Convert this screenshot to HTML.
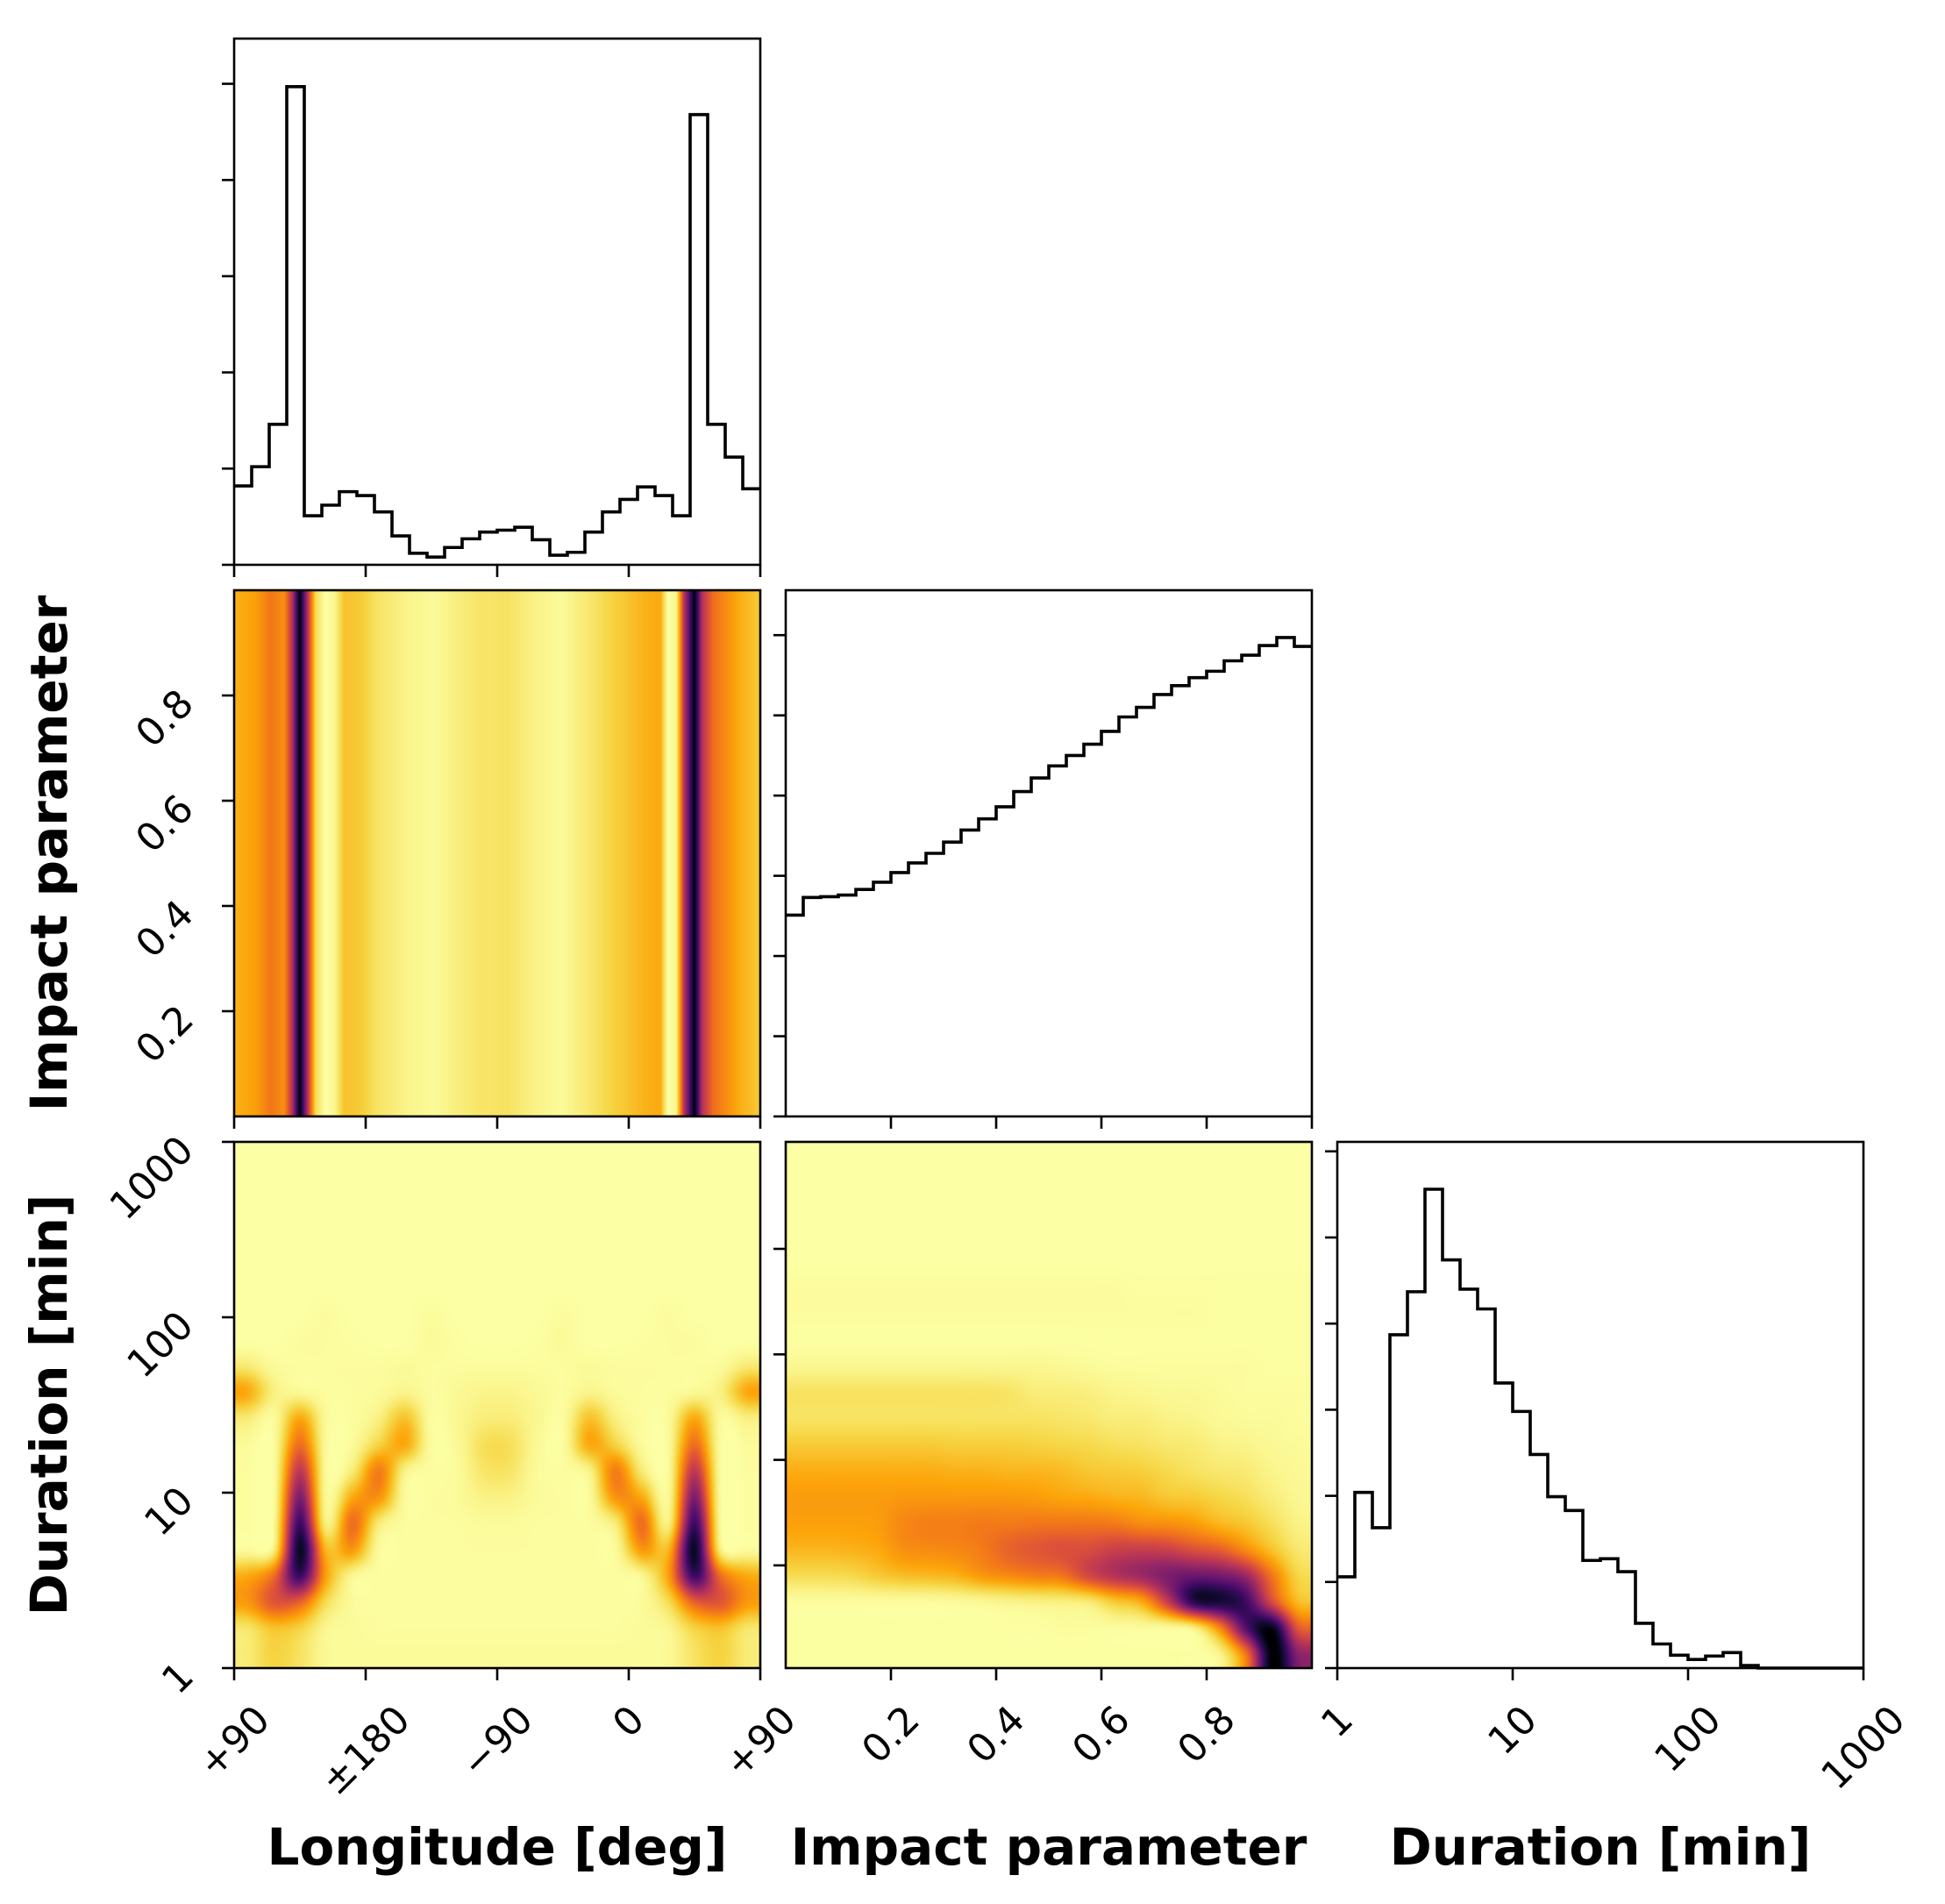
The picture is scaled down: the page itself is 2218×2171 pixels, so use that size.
<!DOCTYPE html>
<html><head><meta charset="utf-8">
<style>
html,body{margin:0;padding:0;background:#fff;}
#wrap{position:relative;width:2218px;height:2171px;overflow:hidden;background:#fff;}
canvas{position:absolute;}
svg{position:absolute;left:0;top:0;}
text{font-family:"DejaVu Sans","Liberation Sans",sans-serif;fill:#000;}
</style></head>
<body>
<div id="wrap">
<canvas id="cA" width="600" height="600" style="left:267px;top:673px"></canvas>
<canvas id="cC" width="600" height="600" style="left:267px;top:1302px"></canvas>
<canvas id="cD" width="600" height="600" style="left:896px;top:1302px"></canvas>
<svg id="svg" width="2218" height="2171"></svg>
</div>
<script>
// ---------- data ----------
const lonCounts=[0.82,1.02,1.46,4.97,0.51,0.62,0.76,0.72,0.55,0.30,0.12,0.08,0.18,0.27,0.34,0.36,0.39,0.26,0.10,0.13,0.34,0.55,0.68,0.81,0.72,0.51,4.68,1.46,1.12,0.79];
const impCounts=[2.51,2.73,2.74,2.76,2.83,2.92,3.04,3.16,3.28,3.42,3.57,3.71,3.86,4.05,4.22,4.37,4.50,4.64,4.80,4.98,5.10,5.26,5.37,5.47,5.55,5.68,5.75,5.87,5.97,5.86];
const durCounts=[1.06,2.04,1.63,3.87,4.37,5.56,4.74,4.40,4.17,3.31,2.98,2.48,1.99,1.83,1.25,1.27,1.12,0.52,0.28,0.15,0.10,0.14,0.18,0.03,0,0,0,0,0,0];
const lonTickLabels=["+90","\u00b1180","\u221290","0","+90"];
const impTickLabels=["0.2","0.4","0.6","0.8"];
const impTickValues=[0.2,0.4,0.6,0.8];
const durTickLabels=["1","10","100","1000"];
const durTickValues=[1,10,100,1000];
// longitude-impact density profile (axis phase 0..1, density)
const profPhase=[0,0.04,0.07,0.095,0.11,0.125,0.14,0.155,0.175,0.19,0.21,0.24,0.27,0.33,0.38,0.42,0.47,0.52,0.57,0.62,0.66,0.72,0.78,0.81,0.825,0.84,0.855,0.875,0.89,0.91,0.93,0.96,1.0];
const profDens =[0.26,0.30,0.40,0.34,0.60,1.0,0.60,0.15,0.0,0.05,0.22,0.20,0.13,0.06,0.03,0.08,0.12,0.13,0.07,0.03,0.09,0.18,0.26,0.28,0.0,0.05,0.60,1.0,0.60,0.42,0.36,0.27,0.20];
// longitude-duration density grid (rows top->bottom, 20x20)
const gridC=[
[0,0,0,0,0,0,0,0,0,0,0,0,0,0,0,0,0,0,0,0],
[0,0,0,0,0,0,0,0,0,0,0,0,0,0,0,0,0,0,0,0],
[0,0,0,0,0,0,0,0,0,0,0,0,0,0,0,0,0,0,0,0],
[0,0,0,0,0,0,0,0,0,0,0,0,0,0,0,0,0,0,0,0],
[0,0,0,0,0,0,0,0,0,0,0,0,0,0,0,0,0,0,0,0],
[0,0,0,0,0,0,0,0,0,0,0,0,0,0,0,0,0,0,0,0],
[0,0,0,0.02,0,0,0,0.02,0,0,0,0,0.02,0,0,0,0.02,0,0,0],
[0,0,0.02,0.02,0.01,0,0,0.03,0.01,0,0,0.01,0.03,0,0,0.01,0.02,0.02,0,0],
[0.10,0.03,0.02,0.02,0.02,0.02,0.03,0.02,0.02,0.02,0.02,0.02,0.02,0.03,0.02,0.02,0.02,0.02,0.03,0.10],
[0.28,0.08,0.04,0.02,0.02,0.03,0.06,0.02,0.04,0.06,0.06,0.04,0.02,0.06,0.03,0.02,0.02,0.04,0.08,0.28],
[0.10,0.03,0.28,0.03,0.02,0.08,0.22,0.02,0.05,0.09,0.09,0.05,0.02,0.22,0.08,0.02,0.03,0.28,0.03,0.08],
[0.03,0.02,0.42,0.03,0.03,0.18,0.28,0.02,0.04,0.14,0.14,0.04,0.02,0.28,0.18,0.03,0.03,0.42,0.02,0.03],
[0.02,0.02,0.58,0.03,0.10,0.38,0.07,0.02,0.03,0.12,0.12,0.03,0.02,0.07,0.38,0.10,0.03,0.58,0.02,0.02],
[0.02,0.02,0.72,0.04,0.28,0.33,0.03,0.02,0.03,0.07,0.07,0.03,0.02,0.03,0.33,0.28,0.04,0.72,0.02,0.02],
[0.02,0.03,0.85,0.08,0.42,0.10,0.02,0.02,0.02,0.03,0.03,0.02,0.02,0.02,0.10,0.42,0.08,0.85,0.03,0.02],
[0.03,0.08,0.95,0.25,0.32,0.03,0.02,0.02,0.02,0.02,0.02,0.02,0.02,0.02,0.03,0.32,0.25,0.95,0.08,0.03],
[0.28,0.42,0.85,0.30,0.05,0.02,0.02,0.02,0.02,0.02,0.02,0.02,0.02,0.02,0.02,0.05,0.30,0.85,0.42,0.28],
[0.32,0.48,0.45,0.15,0.03,0.02,0.02,0.02,0.02,0.02,0.02,0.02,0.02,0.02,0.02,0.03,0.15,0.45,0.48,0.32],
[0.12,0.22,0.18,0.05,0.03,0.02,0.02,0.02,0.02,0.02,0.02,0.02,0.02,0.02,0.02,0.03,0.05,0.18,0.22,0.12],
[0.10,0.18,0.13,0.04,0.03,0.03,0.03,0.03,0.03,0.03,0.03,0.03,0.03,0.03,0.03,0.03,0.04,0.13,0.18,0.10]];
// impact-duration density grid (rows top->bottom, 20x20)
const gridD=[
[0,0,0,0,0,0,0,0,0,0,0,0,0,0,0,0,0,0,0,0],
[0,0,0,0,0,0,0,0,0,0,0,0,0,0,0,0,0,0,0,0],
[0,0,0,0,0,0,0,0,0,0,0,0,0,0,0,0,0,0,0,0],
[0,0,0,0,0,0,0,0,0,0,0,0,0,0,0,0,0,0,0,0],
[0,0,0,0,0,0,0,0,0,0,0,0,0,0,0,0,0,0,0,0],
[0.02,0.02,0.02,0.02,0.02,0.02,0.02,0.02,0.02,0.02,0.02,0.02,0.02,0.01,0.01,0.01,0.01,0.01,0.01,0.01],
[0.02,0.02,0.02,0.02,0.02,0.02,0.02,0.02,0.02,0.02,0.02,0.02,0.02,0.02,0.02,0.02,0.01,0.01,0.01,0.01],
[0.01,0.01,0.01,0.01,0.01,0.01,0.01,0.01,0.01,0.01,0.01,0.01,0.01,0.01,0.01,0.01,0.01,0.01,0.01,0.01],
[0.05,0.05,0.05,0.05,0.05,0.05,0.05,0.05,0.05,0.05,0.04,0.03,0.02,0.02,0.02,0.02,0.02,0.02,0.01,0.01],
[0.13,0.13,0.13,0.13,0.13,0.13,0.13,0.13,0.12,0.09,0.09,0.08,0.06,0.05,0.04,0.04,0.03,0.02,0.02,0.02],
[0.13,0.13,0.13,0.13,0.13,0.13,0.13,0.13,0.13,0.13,0.12,0.11,0.09,0.09,0.07,0.06,0.04,0.03,0.03,0.02],
[0.20,0.20,0.20,0.20,0.20,0.20,0.19,0.19,0.19,0.18,0.17,0.16,0.14,0.13,0.11,0.10,0.07,0.06,0.04,0.03],
[0.27,0.27,0.27,0.27,0.27,0.27,0.26,0.26,0.25,0.25,0.24,0.21,0.20,0.19,0.16,0.13,0.11,0.10,0.06,0.04],
[0.31,0.31,0.31,0.31,0.32,0.32,0.32,0.32,0.32,0.31,0.29,0.28,0.26,0.25,0.21,0.20,0.17,0.14,0.09,0.05],
[0.30,0.30,0.30,0.31,0.36,0.38,0.38,0.39,0.39,0.40,0.40,0.40,0.39,0.35,0.34,0.31,0.25,0.21,0.14,0.07],
[0.25,0.25,0.26,0.28,0.34,0.35,0.36,0.39,0.45,0.48,0.50,0.51,0.55,0.56,0.55,0.50,0.46,0.35,0.22,0.11],
[0.15,0.15,0.16,0.20,0.23,0.24,0.26,0.32,0.35,0.38,0.40,0.52,0.60,0.65,0.72,0.76,0.74,0.66,0.40,0.17],
[0.02,0.02,0.02,0.02,0.02,0.02,0.03,0.04,0.06,0.07,0.08,0.10,0.20,0.27,0.55,0.88,0.92,0.85,0.52,0.24],
[0.01,0.01,0.01,0.01,0.01,0.01,0.01,0.01,0.01,0.01,0.02,0.02,0.02,0.02,0.02,0.07,0.35,0.80,0.97,0.48],
[0.01,0.01,0.01,0.01,0.01,0.01,0.01,0.01,0.01,0.01,0.01,0.01,0.01,0.01,0.01,0.01,0.06,0.40,1.00,0.70]];

// ---------- layout ----------
const COLX=[267,896,1525], ROWY=[44,673,1302], S=600;
const NS="http://www.w3.org/2000/svg";
const svg=document.getElementById('svg');
function el(tag,attrs,parent){const e=document.createElementNS(NS,tag);for(const k in attrs)e.setAttribute(k,attrs[k]);(parent||svg).appendChild(e);return e;}

// colormap inferno_r (with slight desaturating gamma)
const inf=[[0,0,4],[22,11,57],[66,10,104],[106,23,110],[147,38,103],[188,55,84],[221,81,58],[243,120,25],[252,165,10],[246,215,70],[252,255,164]];
function cmap(v){v=Math.pow(Math.max(0,Math.min(1,v)),1.3);let t=1-v;let p=t*10,i=Math.min(9,Math.floor(p)),f=p-i;const a=inf[i],b=inf[i+1];return [a[0]+(b[0]-a[0])*f,a[1]+(b[1]-a[1])*f,a[2]+(b[2]-a[2])*f];}

// heatmap A: profile along x
(function(){const c=document.getElementById('cA').getContext('2d');
 for(let x=0;x<S;x++){const ph=(x+0.5)/S;let k=0;while(k<profPhase.length-2&&profPhase[k+1]<ph)k++;
  const f=(ph-profPhase[k])/(profPhase[k+1]-profPhase[k]);const v=profDens[k]+(profDens[k+1]-profDens[k])*Math.max(0,Math.min(1,f));
  const col=cmap(v);c.fillStyle=`rgb(${col[0]|0},${col[1]|0},${col[2]|0})`;c.fillRect(x,0,1,S);}
})();
function cr(p0,p1,p2,p3,t){return 0.5*((2*p1)+(-p0+p2)*t+(2*p0-5*p1+4*p2-p3)*t*t+(-p0+3*p1-3*p2+p3)*t*t*t);}
function drawGrid(id,grid){const c=document.getElementById(id).getContext('2d');const img=c.createImageData(S,S);
 const R=grid.length,C=grid[0].length;const g=(r,q)=>grid[Math.max(0,Math.min(R-1,r))][Math.max(0,Math.min(C-1,q))];
 for(let y=0;y<S;y++){const gy=(y+0.5)/S*R-0.5;const y0=Math.floor(gy),fy=gy-y0;
  for(let x=0;x<S;x++){const gx=(x+0.5)/S*C-0.5;const x0=Math.floor(gx),fx=gx-x0;
   const rows=[];for(let k=-1;k<=2;k++)rows.push(cr(g(y0+k,x0-1),g(y0+k,x0),g(y0+k,x0+1),g(y0+k,x0+2),fx));
   const v=cr(rows[0],rows[1],rows[2],rows[3],fy);
   const col=cmap(v);const i=(y*S+x)*4;img.data[i]=col[0];img.data[i+1]=col[1];img.data[i+2]=col[2];img.data[i+3]=255;}}
 c.putImageData(img,0,0);}
drawGrid('cC',gridC);drawGrid('cD',gridD);

// axes frames
function frame(cx,cy,name){const r=el('rect',{x:COLX[cx],y:ROWY[cy],width:S,height:S,fill:'none',stroke:'#000','stroke-width':2.6});
 }
function tickX(cx,cy,px){const l=el('line',{x1:px,y1:ROWY[cy]+S,x2:px,y2:ROWY[cy]+S+14,stroke:'#000','stroke-width':2.6});}
function tickY(cx,cy,py){const l=el('line',{x1:COLX[cx]-14,y1:py,x2:COLX[cx],y2:py,stroke:'#000','stroke-width':2.6});}
const lonX=i=>COLX[0]+i*S/4;
const impX=(cx,v)=>COLX[cx]+v*S;
const impY=v=>ROWY[1]+S-v*S;
const durY=d=>ROWY[2]+S-Math.log10(d)/3*S;
const durX=(cx,d)=>COLX[cx]+Math.log10(d)/3*S;

function xLabel(px,txt){const t=el('text',{'font-size':44,'text-anchor':'middle','dominant-baseline':'central'});t.textContent=txt;
 
 const L=t.getComputedTextLength();const half=(L+32)*0.3536;const y=1942+half;
 t.setAttribute('x',px);t.setAttribute('y',y);t.setAttribute('transform',`rotate(-45 ${px} ${y})`);}
function yLabel(py,txt){const x=COLX[0]-44,y=py+12;const t=el('text',{x:x,y:y,'font-size':44,'text-anchor':'end',transform:`rotate(-45 ${x} ${y})`});t.textContent=txt;
 }

function hist(cx,cy,counts,unit,name){let d='';const bw=S/counts.length;
 counts.forEach((v,i)=>{const x0=COLX[cx]+i*bw,x1=x0+bw,y=ROWY[cy]+S-v*unit;d+=(i===0?`M${x0},${y}`:`V${y}`)+`H${x1}`;});
 const p=el('path',{d:d,fill:'none',stroke:'#000','stroke-width':3.6,'stroke-linejoin':'miter'});}

// panel 1: longitude histogram
frame(0,0,'longitude-hist-axes');
hist(0,0,lonCounts,S/5.47,'longitude-histogram');
for(let k=0;k<=5;k++)tickY(0,0,ROWY[0]+S-k*S/5.47);
lonTickLabels.forEach((_,i)=>tickX(0,0,lonX(i)));
// panel A
frame(0,1,'longitude-impact-axes');
lonTickLabels.forEach((_,i)=>tickX(0,1,lonX(i)));
impTickValues.forEach((v,i)=>{tickY(0,1,impY(v));yLabel(impY(v),impTickLabels[i]);});
// panel B: impact histogram
frame(1,1,'impact-hist-axes');
hist(1,1,impCounts,S/6.56,'impact-histogram');
for(let k=0;k<=6;k++)tickY(1,1,ROWY[1]+S-k*S/6.56);
[0.2,0.4,0.6,0.8,1.0].forEach(v=>tickX(1,1,impX(1,v)));
// panel C
frame(0,2,'longitude-duration-axes');
lonTickLabels.forEach((t,i)=>{tickX(0,2,lonX(i));xLabel(lonX(i),t);});
durTickValues.forEach((d,i)=>{tickY(0,2,durY(d));yLabel(durY(d),durTickLabels[i]);});
// panel D
frame(1,2,'impact-duration-axes');
impTickValues.forEach((v,i)=>{tickX(1,2,impX(1,v));xLabel(impX(1,v),impTickLabels[i]);});
[0,1,2,3].forEach(k=>tickY(1,2,ROWY[2]+122+k*120.3));
// panel E: duration histogram
frame(2,2,'duration-hist-axes');
hist(2,2,durCounts,S/6.11,'duration-histogram');
for(let k=0;k<=6;k++)tickY(2,2,ROWY[2]+S-k*S/6.11);
durTickValues.forEach((d,i)=>{tickX(2,2,durX(2,d));xLabel(durX(2,d),durTickLabels[i]);});

// axis titles
function title(x,y,txt,rot,name){const t=el('text',{x:x,y:y,'font-size':58,'font-weight':'bold','text-anchor':'middle'});if(rot)t.setAttribute('transform',`rotate(-90 ${x} ${y})`);
 t.textContent=txt;}
title(567,2126,'Longitude [deg]',false,'x-axis-title-longitude');
title(1196,2126,'Impact parameter',false,'x-axis-title-impact');
title(1825,2126,'Duration [min]',false,'x-axis-title-duration');
title(76,973,'Impact parameter',true,'y-axis-title-impact');
title(76,1602,'Duration [min]',true,'y-axis-title-duration');
</script>
</body></html>
